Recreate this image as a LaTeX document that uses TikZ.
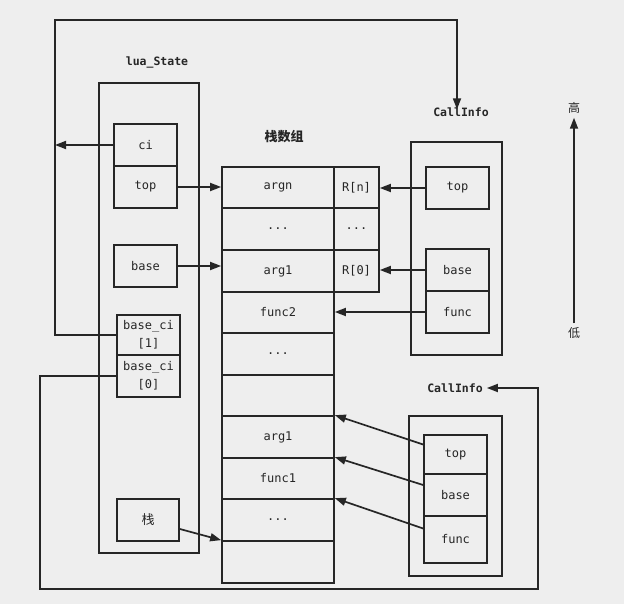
\documentclass[tikz,border=0pt]{standalone}
\usepackage{fontspec}
\setmonofont{DejaVu Sans Mono}
\newfontfamily\cjk{Noto Sans CJK SC}
\usetikzlibrary{arrows.meta}
\definecolor{ink}{HTML}{262626}
\definecolor{paper}{HTML}{EEEEEE}
\begin{document}
\begin{tikzpicture}[x=1pt,y=-1pt,line width=1.7pt,color=ink,
  box/.style={draw=ink,line width=1.7pt,inner sep=0pt,text=ink,
    font=\ttfamily\fontsize{12}{18}\selectfont},
  cell/.style={box,minimum width=63pt,minimum height=42pt},
  scell/.style={box,minimum width=112pt},
  rcell/.style={box,minimum width=45pt},
  hdr/.style={text=ink,font=\ttfamily\bfseries\fontsize{11.5}{13}\selectfont},
  cjkhdr/.style={text=ink,font=\cjk\bfseries\fontsize{13}{15}\selectfont},
  arr/.style={-{Triangle[length=11pt,width=8pt]}},
  wire/.style={line width=1.7pt,draw=ink}]
\fill[paper] (0,0) rectangle (624,604);
\useasboundingbox (0,0) rectangle (624,604);

% lua_State
\node[box,minimum width=100pt,minimum height=470pt] (ls) at (149,318) {};
\node[hdr] (lslab) at (157,62) {lua\_State};
\node[cell] (ci) at (145.5,145) {ci};
\node[cell] (top) at (145.5,187) {top};
\node[cell] (base) at (145.5,266) {base};
\node[cell,minimum height=40pt,align=center] (bci1) at (148.5,335) {base\_ci\\{[1]}};
\node[cell,minimum height=42pt,align=center] (bci0) at (148.5,376) {base\_ci\\{[0]}};
\node[cell,minimum width=62pt,font=\cjk\fontsize{13}{15}\selectfont] (stk) at (148,520) {栈};

% stack array
\node[cjkhdr] (stlab) at (284,137) {栈数组};
\node[scell,minimum height=41pt] (s1) at (278,187.5) {argn};
\node[scell,minimum height=42pt] (s2) at (278,229) {...};
\node[scell,minimum height=42pt] (s3) at (278,271) {arg1};
\node[scell,minimum height=41pt] (s4) at (278,312.5) {func2};
\node[scell,minimum height=42pt] (s5) at (278,354) {...};
\node[scell,minimum height=41pt] (s6) at (278,395.5) {};
\node[scell,minimum height=42pt] (s7) at (278,437) {arg1};
\node[scell,minimum height=41pt] (s8) at (278,478.5) {func1};
\node[scell,minimum height=42pt] (s9) at (278,520) {...};
\node[scell,minimum height=42pt] (s10) at (278,562) {};
\node[rcell,minimum height=41pt] (r1) at (356.5,187.5) {R[n]};
\node[rcell,minimum height=42pt] (r2) at (356.5,229) {...};
\node[rcell,minimum height=42pt] (r3) at (356.5,271) {R[0]};

% CallInfo 1
\node[hdr] (lab1) at (461,112) {CallInfo};
\node[box,minimum width=91pt,minimum height=213pt] (cio1) at (456.5,248.5) {};
\node[cell] (c1top) at (457.5,188) {top};
\node[cell] (c1base) at (457.5,270) {base};
\node[cell] (c1func) at (457.5,312) {func};

% CallInfo 2
\node[hdr] (lab2) at (455,388) {CallInfo};
\node[box,minimum width=93pt,minimum height=160pt] (cio2) at (455.5,496) {};
\node[cell,minimum height=39pt] (c2top) at (455.5,454.5) {top};
\node[cell,minimum height=42pt] (c2base) at (455.5,495) {base};
\node[cell,minimum height=47pt] (c2func) at (455.5,539.5) {func};

% high / low
\node[text=ink,font=\cjk\fontsize{12}{14}\selectfont] (hi) at (574,108) {高};
\node[text=ink,font=\cjk\fontsize{12}{14}\selectfont] (lo) at (574,333) {低};
\draw[wire,arr] (lo.north) -- (hi.south);

% corner coordinates
\coordinate (ltop) at (55,20);
\coordinate (rtop) at (457,20);
\coordinate (lbot) at (40,589);
\coordinate (rbot) at (538,589);

% connectors
\draw[wire,arr] (ci.west) -- (ci.west -| ltop);
\draw[wire,arr] (bci1.west) -- (bci1.west -| ltop) -- (ltop) -- (rtop)
  -- ([yshift=-6pt]rtop |- lab1.north);
\draw[wire,arr] (bci0.west) -- (bci0.west -| lbot) -- (lbot) -- (rbot)
  -- (rbot |- lab2.east) -- (lab2.east);
\draw[wire,arr] (top.east) -- (top.east -| s1.west);
\draw[wire,arr] (base.east) -- (base.east -| s3.west);
\draw[wire,arr] ([yshift=-9pt]stk.east) -- (s10.north west);
\draw[wire,arr] (c1top.west) -- (c1top.west -| r1.east);
\draw[wire,arr] (c1base.west) -- (c1base.west -| r3.east);
\draw[wire,arr] (c1func.west) -- (c1func.west -| s4.east);
\draw[wire,arr] ([yshift=10pt]c2top.west) -- (s7.north east);
\draw[wire,arr] ([yshift=10pt]c2base.west) -- (s8.north east);
\draw[wire,arr] ([yshift=11pt]c2func.west) -- (s9.north east);
\end{tikzpicture}
\end{document}
